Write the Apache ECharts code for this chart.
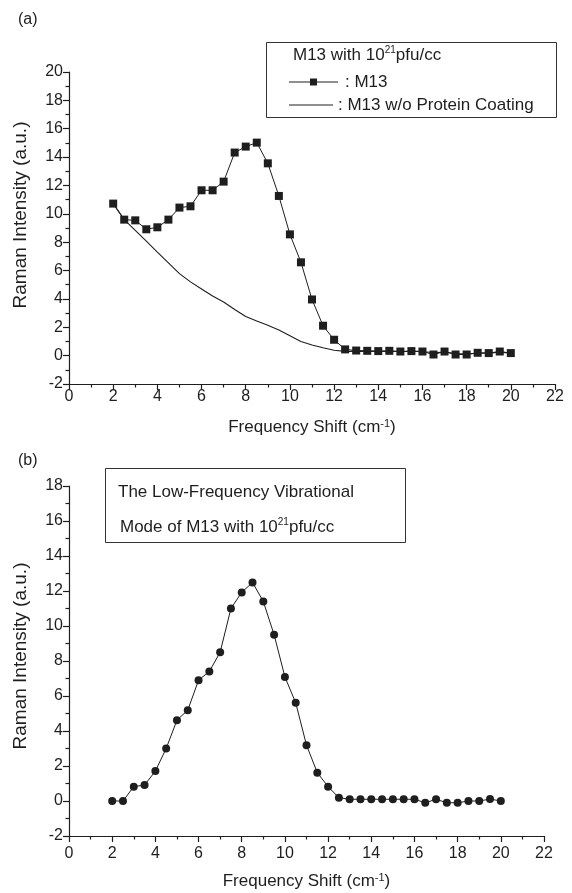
<!DOCTYPE html>
<html>
<head>
<meta charset="utf-8">
<script src="https://cdn.jsdelivr.net/npm/echarts@6/dist/echarts.min.js"></script>
<style>
html,body{margin:0;padding:0;background:#fff;}
#chart{width:572px;height:893px;}
</style>
</head>
<body>
<div id="chart"></div>
<script>
// ---- data ----
const freqShift = [2,2.5,3,3.5,4,4.5,5,5.5,6,6.5,7,7.5,8,8.5,9,9.5,10,10.5,11,11.5,12,12.5,13,13.5,14,14.5,15,15.5,16,16.5,17,17.5,18,18.5,19,19.5,20];
const m13 = [10.72,9.59,9.54,8.91,9.05,9.59,10.44,10.53,11.66,11.66,12.27,14.32,14.74,15.02,13.56,11.26,8.55,6.58,3.96,2.11,1.12,0.44,0.36,0.34,0.32,0.34,0.29,0.32,0.29,0.08,0.29,0.08,0.08,0.2,0.18,0.29,0.18];
const m13NoCoat = [10.72,9.59,8.83,8.07,7.3,6.54,5.78,5.2,4.7,4.2,3.78,3.25,2.76,2.45,2.15,1.8,1.4,1.0,0.75,0.55,0.38,0.3,0.3,0.3,0.3,0.3,0.29,0.3,0.29,0.2,0.25,0.15,0.12,0.18,0.18,0.25,0.18];
const lowFreqMode = [0,0,0.82,0.91,1.71,3.0,4.62,5.19,6.9,7.4,8.5,11.0,11.92,12.49,11.4,9.5,7.09,5.61,3.19,1.62,0.82,0.19,0.1,0.1,0.1,0.1,0.1,0.1,0.1,-0.1,0.1,-0.1,-0.1,0,0,0.11,0];
const xTickMin = 0, xTickMax = 22, tickStep = 2;
const yTopMin = -2, yTopMax = 20;
const yBotMin = -2, yBotMax = 18;
const xTitle = 'Frequency Shift (cm{sup|-1})';
const yTitle = 'Raman Intensity (a.u.)';

const pairs = (xs, ys) => xs.map((x, i) => [x, ys[i]]);
const INK = '#1e1e1e';
const FONT = '"Liberation Sans", Arial, Helvetica, sans-serif';

function xAxisCfg(gi, labelMargin, nameGap) {
  return {
    gridIndex: gi, type: 'value', min: xTickMin, max: xTickMax, interval: tickStep,
    name: xTitle, nameLocation: 'middle', nameGap: nameGap,
    nameTextStyle: {fontFamily: FONT, fontSize: 17, color: INK,
      rich: {sup: {fontFamily: FONT, fontSize: 11, color: INK, verticalAlign: 'top', padding: [0,0,8,0]}}},
    axisLine: {show: true, onZero: false, lineStyle: {color: INK, width: 1.2}},
    axisTick: {show: true, inside: false, length: 6, lineStyle: {color: INK, width: 1.2}},
    minorTick: {show: true, splitNumber: 2, length: 3.5, lineStyle: {color: INK, width: 1.2}},
    axisLabel: {fontFamily: FONT, fontSize: 16, color: INK, margin: labelMargin},
    splitLine: {show: false}, minorSplitLine: {show: false}
  };
}
function yAxisCfg(gi, mn, mx, shiftUp) {
  return {
    gridIndex: gi, type: 'value', min: mn, max: mx, interval: tickStep,
    name: yTitle, nameLocation: 'middle', nameGap: 39, nameRotate: 90,
    nameTextStyle: {fontFamily: FONT, fontSize: 19, color: INK, padding: [0, 0, 0, shiftUp * 2]},
    axisLine: {show: true, onZero: false, lineStyle: {color: INK, width: 1.2}},
    axisTick: {show: true, inside: false, length: 6, lineStyle: {color: INK, width: 1.2}},
    minorTick: {show: true, splitNumber: 2, length: 3.5, lineStyle: {color: INK, width: 1.2}},
    axisLabel: {fontFamily: FONT, fontSize: 16, color: INK, margin: 6},
    splitLine: {show: false}, minorSplitLine: {show: false}
  };
}

const chart = echarts.init(document.getElementById('chart'), null, {renderer: 'canvas'});
chart.setOption({
  backgroundColor: '#fff',
  animation: false,
  grid: [
    {left: 69, top: 72, width: 486, height: 312, containLabel: false, outerBoundsMode: 'none'},
    {left: 69, top: 486, width: 475, height: 350, containLabel: false, outerBoundsMode: 'none'}
  ],
  xAxis: [xAxisCfg(0, 5, 34), xAxisCfg(1, 10, 36)],
  yAxis: [yAxisCfg(0, yTopMin, yTopMax, 13), yAxisCfg(1, yBotMin, yBotMax, 5)],
  series: [
    {type: 'line', xAxisIndex: 0, yAxisIndex: 0, data: pairs(freqShift, m13NoCoat),
     showSymbol: false, symbol: 'none', lineStyle: {color: INK, width: 1.1}, z: 2},
    {type: 'line', xAxisIndex: 0, yAxisIndex: 0, data: pairs(freqShift, m13),
     symbol: 'rect', symbolSize: 8, itemStyle: {color: INK}, lineStyle: {color: INK, width: 1}, z: 3},
    {type: 'line', xAxisIndex: 1, yAxisIndex: 1, data: pairs(freqShift, lowFreqMode),
     symbol: 'circle', symbolSize: 8, itemStyle: {color: INK}, lineStyle: {color: INK, width: 1}, z: 3}
  ],
  graphic: [
    {type: 'text', left: 18, top: 12, style: {text: '(a)', font: '16px ' + FONT, fill: INK}},
    {type: 'text', left: 18, top: 453, style: {text: '(b)', font: '16px ' + FONT, fill: INK}},
    // legend box (a)
    {type: 'rect', shape: {x: 266.5, y: 42.5, width: 290, height: 75},
     style: {fill: '#fff', stroke: '#333', lineWidth: 1}, z: 10},
    {type: 'text', x: 293, y: 55, z: 11,
     style: {text: 'M13 with 10{sup|21}pfu/cc', font: '17px ' + FONT, fill: INK, verticalAlign: 'middle',
       rich: {sup: {fontSize: 10, fontFamily: FONT, fill: INK, verticalAlign: 'top', padding: [0,0,9,0]}}}},
    {type: 'line', shape: {x1: 289, y1: 82, x2: 338, y2: 82}, style: {stroke: INK, lineWidth: 1}, z: 11},
    {type: 'rect', shape: {x: 310, y: 78.5, width: 7, height: 7}, style: {fill: INK}, z: 12},
    {type: 'text', x: 345, y: 82, z: 11,
     style: {text: ': M13', font: '17px ' + FONT, fill: INK, verticalAlign: 'middle'}},
    {type: 'line', shape: {x1: 289, y1: 105, x2: 333, y2: 105}, style: {stroke: INK, lineWidth: 1}, z: 11},
    {type: 'text', x: 338, y: 105, z: 11,
     style: {text: ': M13 w/o Protein Coating', font: '17px ' + FONT, fill: INK, verticalAlign: 'middle'}},
    // text box (b)
    {type: 'rect', shape: {x: 105.5, y: 468.5, width: 300, height: 74},
     style: {fill: '#fff', stroke: '#333', lineWidth: 1}, z: 10},
    {type: 'text', x: 118, y: 492, z: 11,
     style: {text: 'The Low-Frequency Vibrational', font: '17px ' + FONT, fill: INK, verticalAlign: 'middle'}},
    {type: 'text', x: 120, y: 527, z: 11,
     style: {text: 'Mode of M13 with 10{sup|21}pfu/cc', font: '17px ' + FONT, fill: INK, verticalAlign: 'middle',
       rich: {sup: {fontSize: 10, fontFamily: FONT, fill: INK, verticalAlign: 'top', padding: [0,0,9,0]}}}}
  ]
});
</script>
</body>
</html>
